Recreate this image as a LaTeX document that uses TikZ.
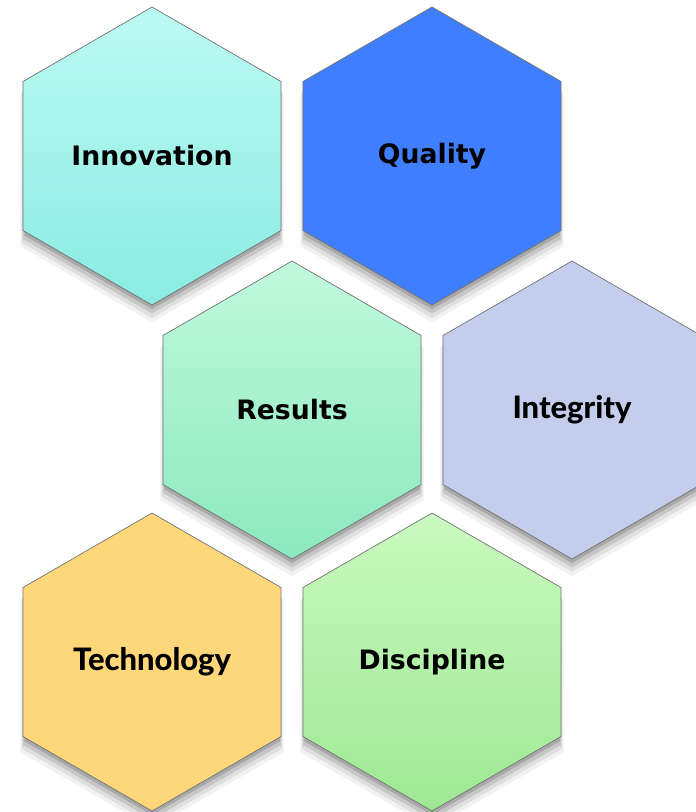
\documentclass[tikz,border=0pt]{standalone}
\usepackage{fontspec}
\usetikzlibrary{shapes.geometric,shadows}
\newfontfamily\hexfont{DejaVu Sans}
\newfontfamily\latofont{Lato Heavy}
\definecolor{innotop}{RGB}{188,250,242}
\definecolor{innobot}{RGB}{138,236,226}
\definecolor{qualblue}{RGB}{63,127,255}
\definecolor{restop}{RGB}{192,249,220}
\definecolor{resbot}{RGB}{140,233,190}
\definecolor{integ}{RGB}{196,205,236}
\definecolor{techy}{RGB}{253,215,122}
\definecolor{disctop}{RGB}{202,249,192}
\definecolor{discbot}{RGB}{158,232,148}
\tikzset{
  softshadow/.style={
    general shadow={fill=black, opacity=0.05, shadow yshift=-10pt, shadow scale=1.02},
    general shadow={fill=black, opacity=0.08, shadow yshift=-8pt, shadow scale=1.01},
    general shadow={fill=black, opacity=0.11, shadow yshift=-6pt, shadow scale=1.0},
    general shadow={fill=black, opacity=0.15, shadow yshift=-4pt, shadow scale=0.99}},
  hexa/.style={regular polygon, regular polygon sides=6, shape border rotate=30,
    minimum size=7.45cm, inner sep=0pt, draw=black!55, line width=0.5pt, softshadow,
    font=\hexfont\bfseries\fontsize{19}{21}\selectfont},
  latohexa/.style={hexa, font=\latofont\fontsize{22}{24}\selectfont}
}
\begin{document}
\begin{tikzpicture}
\useasboundingbox[fill=white] (0,0) rectangle (17.375,-20.3);
\node[hexa, top color=innotop, bottom color=innobot] (innov) at (3.8,-3.9) {Innovation};
\node[hexa, fill=qualblue] (qual) at (10.8,-3.9) {Quality};
\node[hexa, top color=restop, bottom color=resbot] (res) at (7.3,-10.25) {Results};
\node[latohexa, fill=integ] (integ) at (14.3,-10.25) {Integrity};
\node[latohexa, fill=techy] (tech) at (3.8,-16.55) {Technology};
\node[hexa, top color=disctop, bottom color=discbot] (disc) at (10.8,-16.55) {Discipline};
\end{tikzpicture}
\end{document}
